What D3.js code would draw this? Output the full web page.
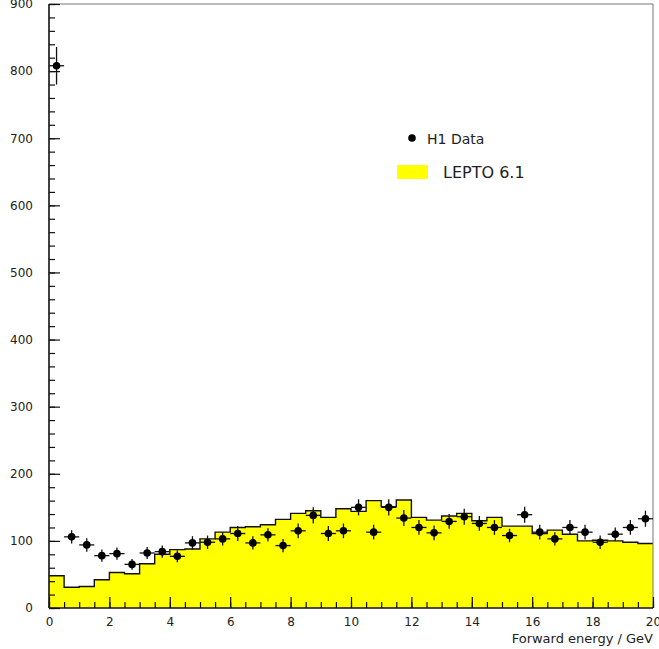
<!DOCTYPE html>
<html>
<head>
<meta charset="utf-8">
<script src="https://cdn.jsdelivr.net/npm/d3@7"></script>
<style>
    body { margin: 0; background: #fff; }
    text { font-family: "DejaVu Sans", sans-serif; fill: #222; }
</style>
</head>
<body>
<script>
// bins of forward energy (GeV), lower edges
var binStarts = [0, 0.5, 1, 1.5, 2, 2.5, 3, 3.5, 4, 4.5,
    5, 5.5, 6, 6.5, 7, 7.5, 8, 8.5, 9, 9.5,
    10, 10.5, 11, 11.5, 12, 12.5, 13, 13.5, 14, 14.5,
    15, 15.5, 16, 16.5, 17, 17.5, 18, 18.5, 19, 19.5];
var binWidth = 0.5;

// LEPTO 6.1 histogram
var lepto = [48, 31, 32, 42, 53, 51, 66, 80, 87, 88,
    103, 113, 120, 121, 124, 132, 141, 145, 135, 148,
    144, 160, 151, 161, 135, 131, 137, 141, 130, 135,
    122, 122, 111, 116, 110, 100, 101, 100, 98, 96];

// H1 data points and errors
var h1 = [808, 106, 94, 78, 81, 65, 82, 84, 77, 97,
    98, 103, 111, 97, 109, 93, 115, 138, 111, 115,
    150, 113, 150, 134, 120, 112, 129, 136, 126, 120,
    108, 139, 113, 103, 120, 113, 98, 110, 120, 133];
var h1Err = [28, 10, 10, 9, 9, 8, 9, 9, 9, 10,
    10, 10, 11, 10, 10, 10, 11, 12, 11, 11,
    12, 11, 12, 12, 11, 11, 11, 12, 11, 11,
    10, 12, 11, 10, 11, 11, 10, 10, 11, 12];

var xTicks = [0, 2, 4, 6, 8, 10, 12, 14, 16, 18, 20];
var yTicks = [0, 100, 200, 300, 400, 500, 600, 700, 800, 900];

var width = 659, height = 649;
var plotLeft = 49, plotRight = 653, plotTop = 4, plotBottom = 608;

var svg = d3.select("body")
    .append("svg")
    .attr("width", width)
    .attr("height", height);

var x = d3.scaleLinear().domain([0, 20]).range([plotLeft, plotRight]);
var y = d3.scaleLinear().domain([0, 900]).range([plotBottom, plotTop]);

// histogram
var histPts = binStarts.map(function (d, i) { return [d, lepto[i]]; });
histPts.push([binStarts[binStarts.length - 1] + binWidth, lepto[lepto.length - 1]]);

var area = d3.area()
    .curve(d3.curveStepAfter)
    .x(function (d) { return x(d[0]); })
    .y0(y(0))
    .y1(function (d) { return y(d[1]); });

var line = d3.line()
    .curve(d3.curveStepAfter)
    .x(function (d) { return x(d[0]); })
    .y(function (d) { return y(d[1]); });

svg.append("path")
    .datum(histPts)
    .attr("d", area)
    .style("fill", "#ffff00");

svg.append("path")
    .datum(histPts)
    .attr("d", line)
    .style("fill", "none")
    .style("stroke", "#111")
    .style("stroke-width", 1.4);

// frame
svg.append("line").attr("x1", plotLeft).attr("x2", plotRight).attr("y1", plotTop).attr("y2", plotTop)
    .style("stroke", "#777").style("stroke-width", 1);
svg.append("line").attr("x1", plotRight).attr("x2", plotRight).attr("y1", plotTop).attr("y2", plotBottom)
    .style("stroke", "#777").style("stroke-width", 1);

// axes
svg.append("g")
    .attr("transform", "translate(" + plotLeft + ",0)")
    .call(d3.axisLeft(y).tickValues(d3.range(0, 901, 20)).tickSize(-6).tickFormat(""));
svg.append("g")
    .attr("transform", "translate(" + plotLeft + ",0)")
    .call(d3.axisLeft(y).tickValues(yTicks).tickSize(-11).tickPadding(16));
svg.append("g")
    .attr("transform", "translate(0," + plotBottom + ")")
    .call(d3.axisBottom(x).tickValues(d3.range(0, 20.01, 0.5)).tickSize(-6).tickFormat(""));
svg.append("g")
    .attr("transform", "translate(0," + plotBottom + ")")
    .call(d3.axisBottom(x).tickValues(xTicks).tickSize(-11).tickPadding(9));

svg.selectAll(".domain").remove();
svg.selectAll(".tick line").style("stroke", "#111").style("stroke-width", 1.2);
svg.selectAll(".tick text").style("font-size", "12px").style("font-family", "DejaVu Sans").style("fill", "#222");

svg.append("line").attr("x1", plotLeft).attr("x2", plotLeft).attr("y1", plotTop).attr("y2", plotBottom)
    .style("stroke", "#111").style("stroke-width", 1.6);
svg.append("line").attr("x1", plotLeft).attr("x2", plotRight).attr("y1", plotBottom).attr("y2", plotBottom)
    .style("stroke", "#111").style("stroke-width", 1.6);

svg.append("text")
    .attr("x", plotRight)
    .attr("y", 643)
    .attr("text-anchor", "end")
    .style("font-size", "13px")
    .text("Forward energy / GeV");

// data points
var pts = svg.append("g");
binStarts.forEach(function (d, i) {
    var cx = x(d + binWidth / 2);
    var cy = y(h1[i]);
    pts.append("line")
        .attr("x1", x(d)).attr("x2", x(d + binWidth))
        .attr("y1", cy).attr("y2", cy)
        .style("stroke", "#111").style("stroke-width", 1.3);
    pts.append("line")
        .attr("x1", cx).attr("x2", cx)
        .attr("y1", y(h1[i] - h1Err[i])).attr("y2", y(h1[i] + h1Err[i]))
        .style("stroke", "#111").style("stroke-width", 1.3);
    pts.append("circle")
        .attr("cx", cx).attr("cy", cy).attr("r", 3.8)
        .style("fill", "#000");
});

// legend
svg.append("circle").attr("cx", 412).attr("cy", 138).attr("r", 3.8).style("fill", "#000");
svg.append("text").attr("x", 427).attr("y", 144).style("font-size", "14px").text("H1 Data");
svg.append("rect").attr("x", 397).attr("y", 165).attr("width", 31).attr("height", 14)
    .style("fill", "#ffff00");
svg.append("text").attr("x", 443).attr("y", 178).style("font-size", "16px").text("LEPTO 6.1");
</script>
</body>
</html>
